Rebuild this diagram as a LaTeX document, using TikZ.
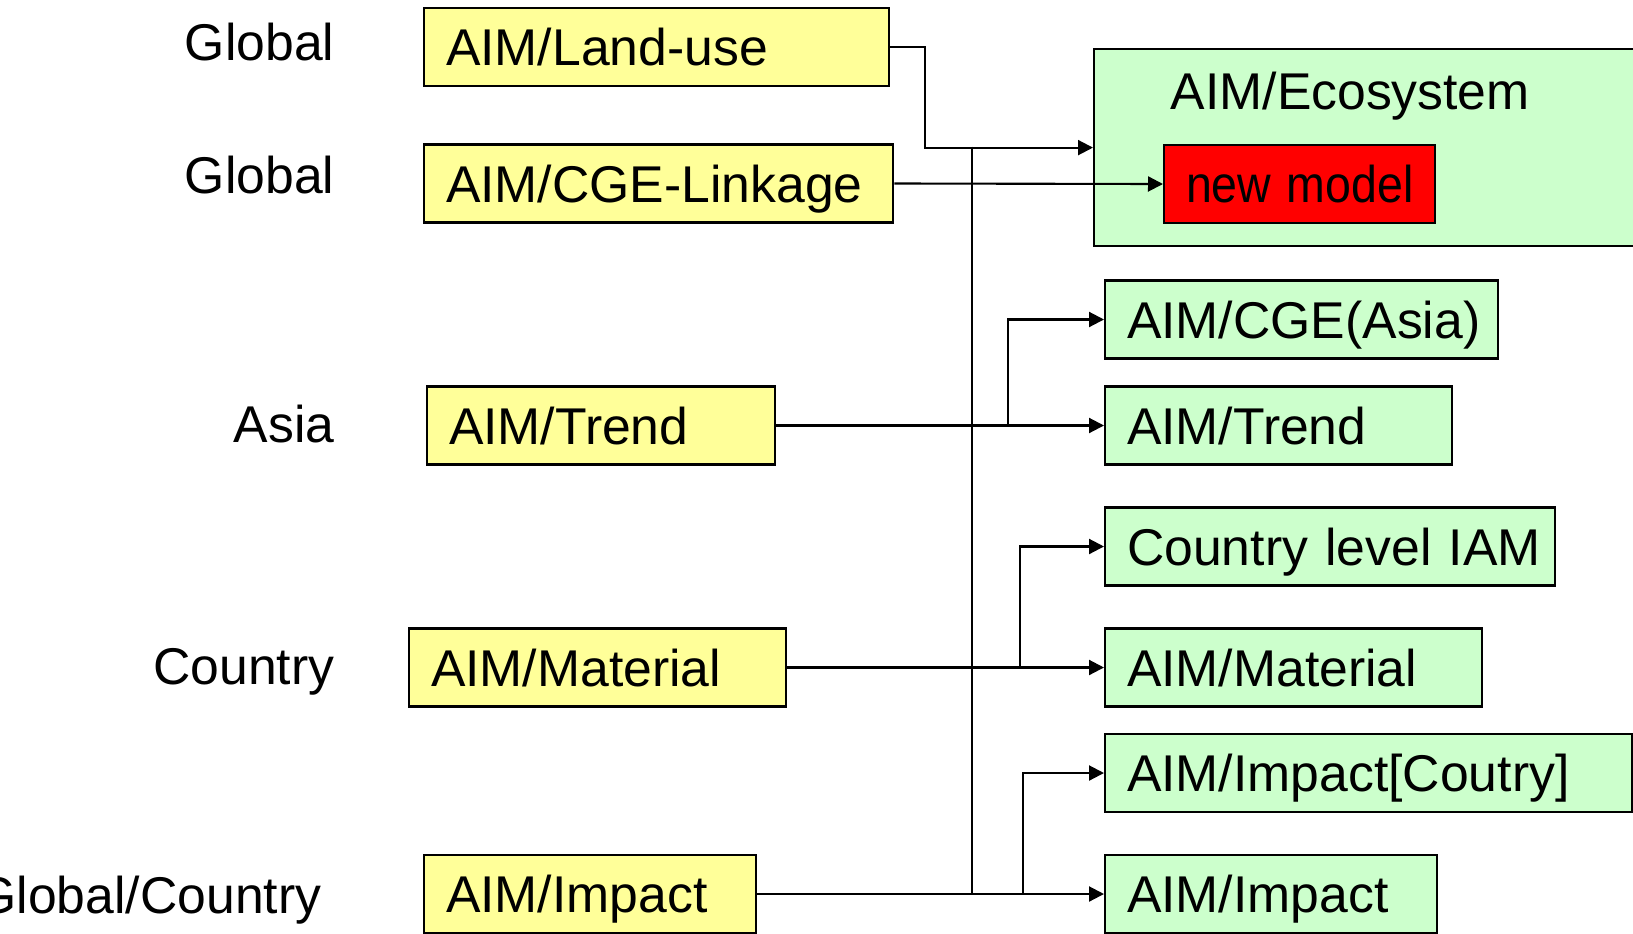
\documentclass[tikz,border=0pt]{standalone}
\usepackage{fontspec}
\setmainfont{Liberation Sans}
\usetikzlibrary{arrows.meta}
\definecolor{aimyellow}{RGB}{255,255,153}
\definecolor{aimgreen}{RGB}{204,255,204}
\definecolor{aimred}{RGB}{255,0,0}

\begin{document}
\begin{tikzpicture}[x=0.01cm, y=-0.01cm,
    model/.style={draw, line width=0.6pt, anchor=west, align=left, inner xsep=0.22cm, inner ysep=0pt,
      minimum height=0.78cm, text height=0.37cm, text depth=0pt, font=\fontsize{14.7}{17}\selectfont},
    src/.style={model, fill=aimyellow},
    dst/.style={model, fill=aimgreen},
    levelname/.style={anchor=base east, inner sep=0pt, font=\fontsize{14.7}{17}\selectfont},
    link/.style={line width=0.6pt},
    arrow/.style={link, -{Triangle[length=0.15cm,width=0.15cm]}}]
                    \useasboundingbox (0,0) rectangle (1633,933);
                    % level of each model
                    \node[levelname] (s1) at (335,60) {Global};
                    \node[levelname] (s2) at (335,193) {Global};
                    \node[levelname] (s3) at (335,442) {Asia};
                    \node[levelname] (s4) at (335,684) {Country};
                    \node[levelname] (s5) at (322,913) {Global/Country};
                    % existing models
                    \node[src, text width=4.21cm] (land) at (423,47) {AIM/Land-use};
                    \node[src, text width=4.25cm] (cge) at (423,183.5) {AIM/CGE-Linkage};
                    \node[src, text width=3.04cm] (trendL) at (426,425.5) {AIM/Trend};
                    \node[src, text width=3.33cm] (matL) at (408,667.5) {AIM/Material};
                    \node[src, text width=2.88cm] (impL) at (423,894) {AIM/Impact};
                    % target models
                    \node[draw, line width=0.6pt, fill=aimgreen, anchor=north west, minimum width=5.6cm, minimum height=1.97cm] (eco) at (1093,48) {};
                    \node[anchor=base west, inner sep=0pt, font=\fontsize{14.7}{17}\selectfont] (ecoT) at (1170,109) {AIM/Ecosystem};
                    \node[model, fill=aimred, text width=2.27cm] (newm) at (1163,184) {\scalebox{0.9}[1]{new model}};
                    \node[dst, text width=3.49cm] (cgeA) at (1104,319.5) {AIM/CGE(Asia)};
                    \node[dst, text width=3.03cm] (trendR) at (1104,425.5) {AIM/Trend};
                    \node[dst, text width=4.06cm] (iam) at (1104,546.5) {\mbox{Country level IAM}};
                    \node[dst, text width=3.33cm] (matR) at (1104,667.5) {AIM/Material};
                    \node[dst, text width=4.83cm] (impC) at (1104,773) {AIM/Impact[Coutry]};
                    \node[dst, text width=2.88cm] (impR) at (1104,894) {AIM/Impact};
                    % connectors
                    \coordinate (trunkT) at (972,146.5);
                    \coordinate (trunkB) at (972,894);
                    \coordinate (forkT) at (1008,425.5);
                    \coordinate (forkM) at (1020,667.5);
                    \coordinate (forkI) at (1023,894);
                    \draw[arrow] (land.east) -- ++(35,0) |- (eco.west);
                    \draw[link] (trunkT) -- (trunkB);
                    \draw[arrow] (cge.east) -- (newm.west);
                    \draw[arrow] (trendL.east) -- (trendR.west);
                    \draw[arrow] (forkT) |- (cgeA.west);
                    \draw[arrow] (matL.east) -- (matR.west);
                    \draw[arrow] (forkM) |- (iam.west);
                    \draw[arrow] (impL.east) -- (impR.west);
                    \draw[arrow] (forkI) |- (impC.west);
                \end{tikzpicture}
\end{document}
